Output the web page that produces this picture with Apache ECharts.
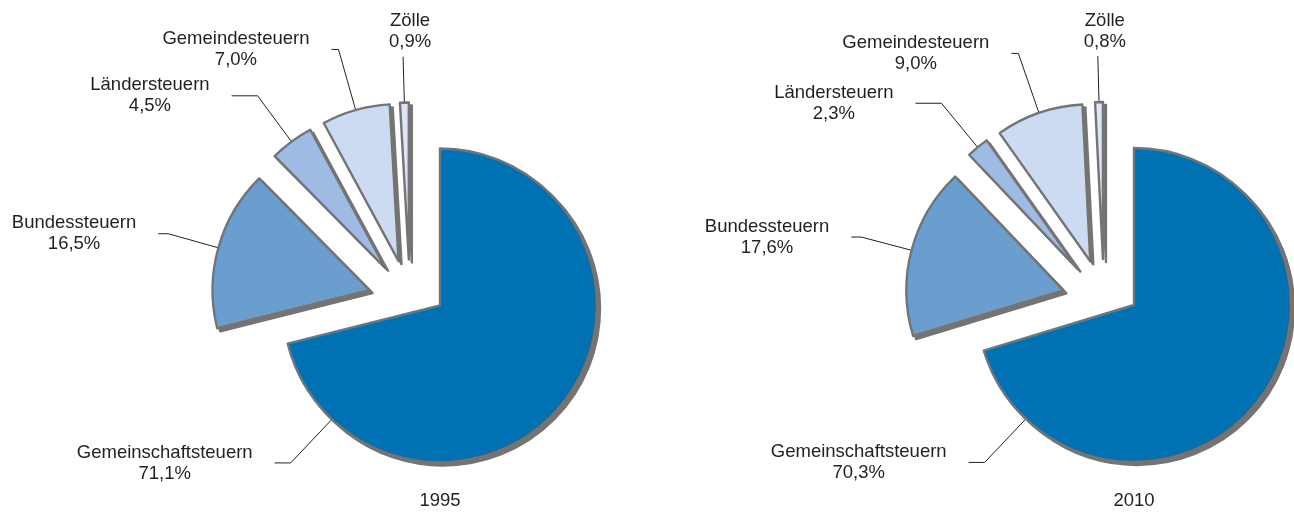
<!DOCTYPE html>
<html>
<head>
<meta charset="utf-8">
<title>Steueraufkommen nach Steuerarten 1995 und 2010</title>
<script src="https://cdn.jsdelivr.net/npm/echarts@6/dist/echarts.min.js"></script>
<style>
  html, body { margin: 0; padding: 0; background: #ffffff; }
  #chart { width: 1294px; height: 512px; }
</style>
</head>
<body>
<div id="chart"></div>
<script>
// Anteile der Steuerarten am Steueraufkommen (Prozent)
const categories = ['Gemeinschaftsteuern', 'Bundessteuern', 'Ländersteuern', 'Gemeindesteuern', 'Zölle'];
const years = ['1995', '2010'];
const shares1995 = [71.1, 16.5, 4.5, 7.0, 0.9];
const shares2010 = [70.3, 17.6, 2.3, 9.0, 0.8];

// Styling
const sliceColors = ['#0071b3', '#6a9ecf', '#9ebbe3', '#cddbf2', '#dce6f6'];
const FONT = '"Liberation Sans", Arial, Helvetica, sans-serif';
const FONT_SIZE = 18.5;
const TEXT = '#231f20';
const EDGE = '#747474';
const EDGE_WIDTH = 2.4;
const SHADOW = '#747474';
const SHADOW_OFFSET = [3, 3];

// Layout of each pie: hub of the main slice; the other slices are pushed
// out from a shifted hub along their own bisectors.
const pies = [
  { year: years[0], shares: shares1995, hub: [440, 305.5] },
  { year: years[1], shares: shares2010, hub: [1134, 305] }
];
const RADIUS = 157;
const DETACH_SHIFT = [-30, -4];
const EXPLODE = 42;

// Leader lines per category: radial segment, horizontal segment
const leaderLen = [60, 52, 57, 63, 46];
const leaderLen2 = [16, 10, 26, 7, 0];
const LABEL_GAP = 22;
// Where the leader of the main slice leaves its arc (degrees clockwise from 12 o'clock)
const MAIN_LEADER_ANGLE = 223.5;

const pct = v => v.toFixed(1).replace('.', ',') + '%';

const geo = [];          // per series: which slice it draws and where its hub sits
const shadowSeries = [];
const sliceSeries = [];

function placeLabel(params) {
  const g = geo[params.seriesIndex];
  const pts = params.labelLinePoints;
  if (!g || !pts) return;
  if (g.slice === 0) {
    // main slice: leader starts on the lower-left part of the arc
    const a = MAIN_LEADER_ANGLE * Math.PI / 180;
    const dir = [Math.sin(a), -Math.cos(a)];
    const p1 = [g.center[0] + RADIUS * dir[0], g.center[1] + RADIUS * dir[1]];
    const p2 = [p1[0] + leaderLen[0] * dir[0], p1[1] + leaderLen[0] * dir[1]];
    const p3 = [p2[0] - leaderLen2[0], p2[1]];
    return {
      x: p3[0] - LABEL_GAP, y: p3[1],
      align: 'right', verticalAlign: 'middle',
      labelLinePoints: [p1, p2, p3]
    };
  }
  if (g.slice === 4) {
    // narrow slice at the top: label sits above the end of its leader
    const p1 = pts[0], p2 = pts[1];
    return {
      x: p2[0] + 7, y: p2[1] - 4,
      align: 'center', verticalAlign: 'bottom',
      labelLinePoints: [p1, p2]
    };
  }
}

const hiddenItem = (name, value) => ({
  name, value,
  itemStyle: { color: 'rgba(0,0,0,0)', borderWidth: 0 },
  label: { show: false },
  labelLine: { show: false }
});

function pieBase(center) {
  return {
    type: 'pie',
    silent: true,
    animation: false,
    left: 0, top: 0, width: 4000, height: 512,
    center: center,
    radius: RADIUS,
    startAngle: 90,
    clockwise: true,
    avoidLabelOverlap: false,
    emphasis: { disabled: true }
  };
}

pies.forEach(pie => {
  const total = pie.shares.reduce((a, b) => a + b, 0);
  let cum = 0;
  pie.shares.forEach((share, i) => {
    const mid = (cum + share / 2) / total * 2 * Math.PI;
    cum += share;
    const dir = [Math.sin(mid), -Math.cos(mid)];
    const center = i === 0
      ? pie.hub.slice()
      : [pie.hub[0] + DETACH_SHIFT[0] + EXPLODE * dir[0],
         pie.hub[1] + DETACH_SHIFT[1] + EXPLODE * dir[1]];

    // drop shadow of the slice, drawn underneath
    shadowSeries.push(Object.assign(pieBase([center[0] + SHADOW_OFFSET[0], center[1] + SHADOW_OFFSET[1]]), {
      itemStyle: { color: SHADOW, borderColor: SHADOW, borderWidth: EDGE_WIDTH },
      label: { show: false },
      labelLine: { show: false },
      data: pie.shares.map((v, j) => j === i ? { name: categories[j], value: v } : hiddenItem(categories[j], v))
    }));

    sliceSeries.push({ center, slice: i, opt: Object.assign(pieBase(center), {
      itemStyle: { borderColor: EDGE, borderWidth: EDGE_WIDTH },
      label: {
        show: true,
        position: 'outside',
        alignTo: 'none',
        bleedMargin: 0,
        overflow: 'none',
        distanceToLabelLine: LABEL_GAP,
        fontFamily: FONT,
        fontSize: FONT_SIZE,
        color: TEXT,
        formatter: p => '{t|' + p.name + '}\n{t|' + pct(p.value) + '}',
        rich: {
          t: { fontFamily: FONT, fontSize: FONT_SIZE, lineHeight: 21, color: TEXT, align: 'center' }
        }
      },
      labelLine: {
        show: true,
        length: leaderLen[i],
        length2: leaderLen2[i],
        smooth: false,
        lineStyle: { color: TEXT, width: 1 }
      },
      labelLayout: placeLabel,
      data: pie.shares.map((v, j) => j === i
        ? { name: categories[j], value: v, itemStyle: { color: sliceColors[j] } }
        : hiddenItem(categories[j], v))
    }) });
  });
});

const series = [];
shadowSeries.forEach(s => { geo.push(null); series.push(s); });
sliceSeries.forEach(s => { geo.push({ center: s.center, slice: s.slice }); series.push(s.opt); });

const chart = echarts.init(document.getElementById('chart'), null, { renderer: 'canvas' });
chart.setOption({
  backgroundColor: '#ffffff',
  animation: false,
  title: pies.map(pie => ({
    text: pie.year,
    left: pie.hub[0],
    top: 491,
    textAlign: 'center',
    padding: 0,
    textStyle: { fontFamily: FONT, fontSize: FONT_SIZE, fontWeight: 'normal', color: TEXT }
  })),
  series: series
});
</script>
</body>
</html>
